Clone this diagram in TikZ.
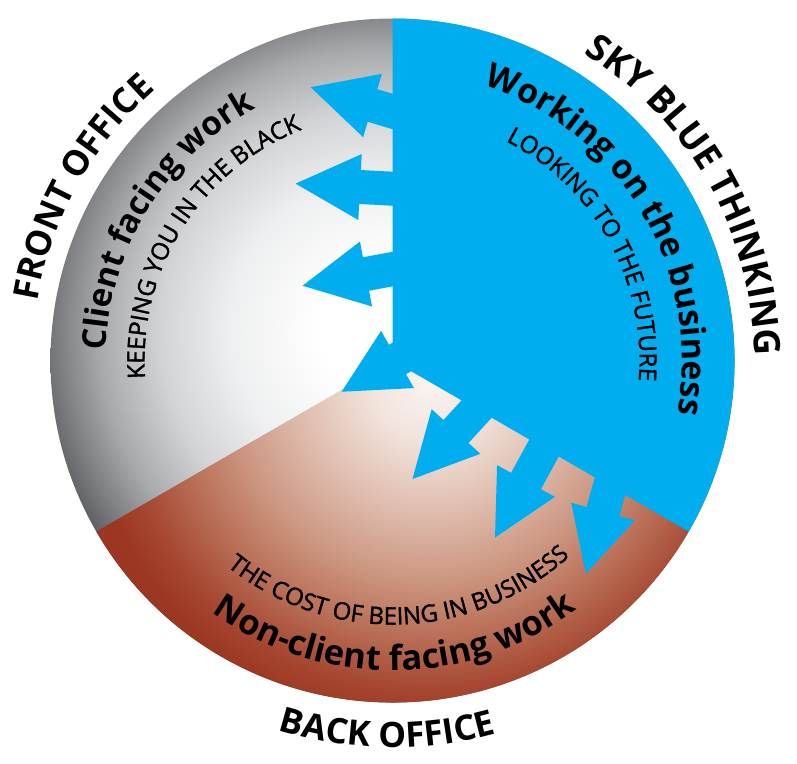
\documentclass[tikz,border=0pt]{standalone}
\usepackage{fontspec}
\setmainfont{Open Sans}
\newfontfamily\subfont{Open Sans}[FakeBold=1.5]
\usetikzlibrary{decorations.text}
\definecolor{skyblue}{HTML}{00AEEF}
\definecolor{gA}{HTML}{EEEFF0}
\definecolor{gB}{HTML}{D2D3D5}
\definecolor{gC}{HTML}{A9AAAD}
\definecolor{gD}{HTML}{7F8084}
\definecolor{gE}{HTML}{5D5E62}
\definecolor{gF}{HTML}{4A4B50}
\definecolor{bA}{HTML}{FAF4F1}
\definecolor{bB}{HTML}{F2E3DC}
\definecolor{bC}{HTML}{E0BEB0}
\definecolor{bD}{HTML}{CC9680}
\definecolor{bE}{HTML}{B86C54}
\definecolor{bF}{HTML}{A64731}
\definecolor{bG}{HTML}{9C3721}
\definecolor{bH}{HTML}{983420}
\pgfdeclareradialshading{grayrad}{\pgfpoint{0bp}{0bp}}{color(0bp)=(white); color(3.75bp)=(white); color(9.4bp)=(gA); color(13.75bp)=(gB); color(17.5bp)=(gC); color(20bp)=(gD); color(21.9bp)=(gE); color(25bp)=(gF); color(50bp)=(gF)}
\pgfdeclareradialshading{brownrad}{\pgfpoint{0bp}{0bp}}{color(0bp)=(bA); color(3.75bp)=(bB); color(8.1bp)=(bC); color(12.5bp)=(bD); color(16.25bp)=(bE); color(19.4bp)=(bF); color(21.6bp)=(bG); color(25bp)=(bH); color(50bp)=(bH)}
\newcommand\blueArrow[3]{\fill[skyblue, shift={(#1,#2)}, rotate=#3] (0,17) -- (-70,17) -- (-70,-17) -- (0,-17) -- (0,-33) -- (64.5,0) -- (0,33) -- cycle;}
\newcommand\cwtext[4]{\path[decorate, decoration={text along path, text align=center, text={|#3|#4}}] (C) ++({#1+70}:#2) arc[start angle={#1+70}, end angle={#1-70}, radius=#2];}
\newcommand\ccwtext[4]{\path[decorate, decoration={text along path, text align=center, text={|#3|#4}}] (C) ++({#1-70}:#2) arc[start angle={#1-70}, end angle={#1+70}, radius=#2];}
\begin{document}
\begin{tikzpicture}[x=1pt,y=1pt]
\useasboundingbox (0,0) rectangle (797,-763);
\coordinate (C) at (392.5,-360.5);
% gray base over whole disc
\begin{scope}
\clip (C) circle[radius=342];
\shade[shading=grayrad] (380,-330) circle[radius=400];
\end{scope}
% brown sector
\begin{scope}
\clip (C) -- ++(210:342) arc[start angle=210, end angle=330, radius=342] -- cycle;
\shade[shading=brownrad] (430,-380) circle[radius=400];
\end{scope}
% blue arrows
\blueArrow{372.5}{-105.5}{163.5}
\blueArrow{360}{-187}{177}
\blueArrow{366}{-274}{190.5}
\blueArrow{397.5}{-359.5}{210}
\blueArrow{456}{-431.5}{227.5}
\blueArrow{526}{-481}{241.3}
\blueArrow{603}{-511.5}{254.6}
% blue sector
\fill[skyblue] (C) -- ++(-30:342) arc[start angle=-30, end angle=90, radius=342] -- cycle;
% texts
\cwtext{150.9}{360}{\bfseries\fontsize{35}{35}\selectfont}{FRONT OFFICE}
\cwtext{29.4}{362}{\bfseries\fontsize{36.5}{36.5}\selectfont}{SKY BLUE THINKING}
\ccwtext{269.2}{387}{\bfseries\fontsize{35}{35}\selectfont}{BACK OFFICE}
\cwtext{148.2}{287}{\bfseries\fontsize{33}{33}\selectfont}{Client facing work}
\cwtext{147.8}{248}{\subfont\fontsize{24}{24}\selectfont}{KEEPING YOU IN THE BLACK}
\cwtext{30.5}{290}{\bfseries\fontsize{34}{34}\selectfont}{Working on the business}
\cwtext{29}{247}{\subfont\fontsize{24}{24}\selectfont}{LOOKING TO THE FUTURE}
\ccwtext{271.7}{264}{\subfont\fontsize{24}{24}\selectfont}{THE COST OF BEING IN BUSINESS}
\ccwtext{270.5}{310}{\bfseries\fontsize{34.5}{34.5}\selectfont}{Non-client facing work}
\end{tikzpicture}
\end{document}
